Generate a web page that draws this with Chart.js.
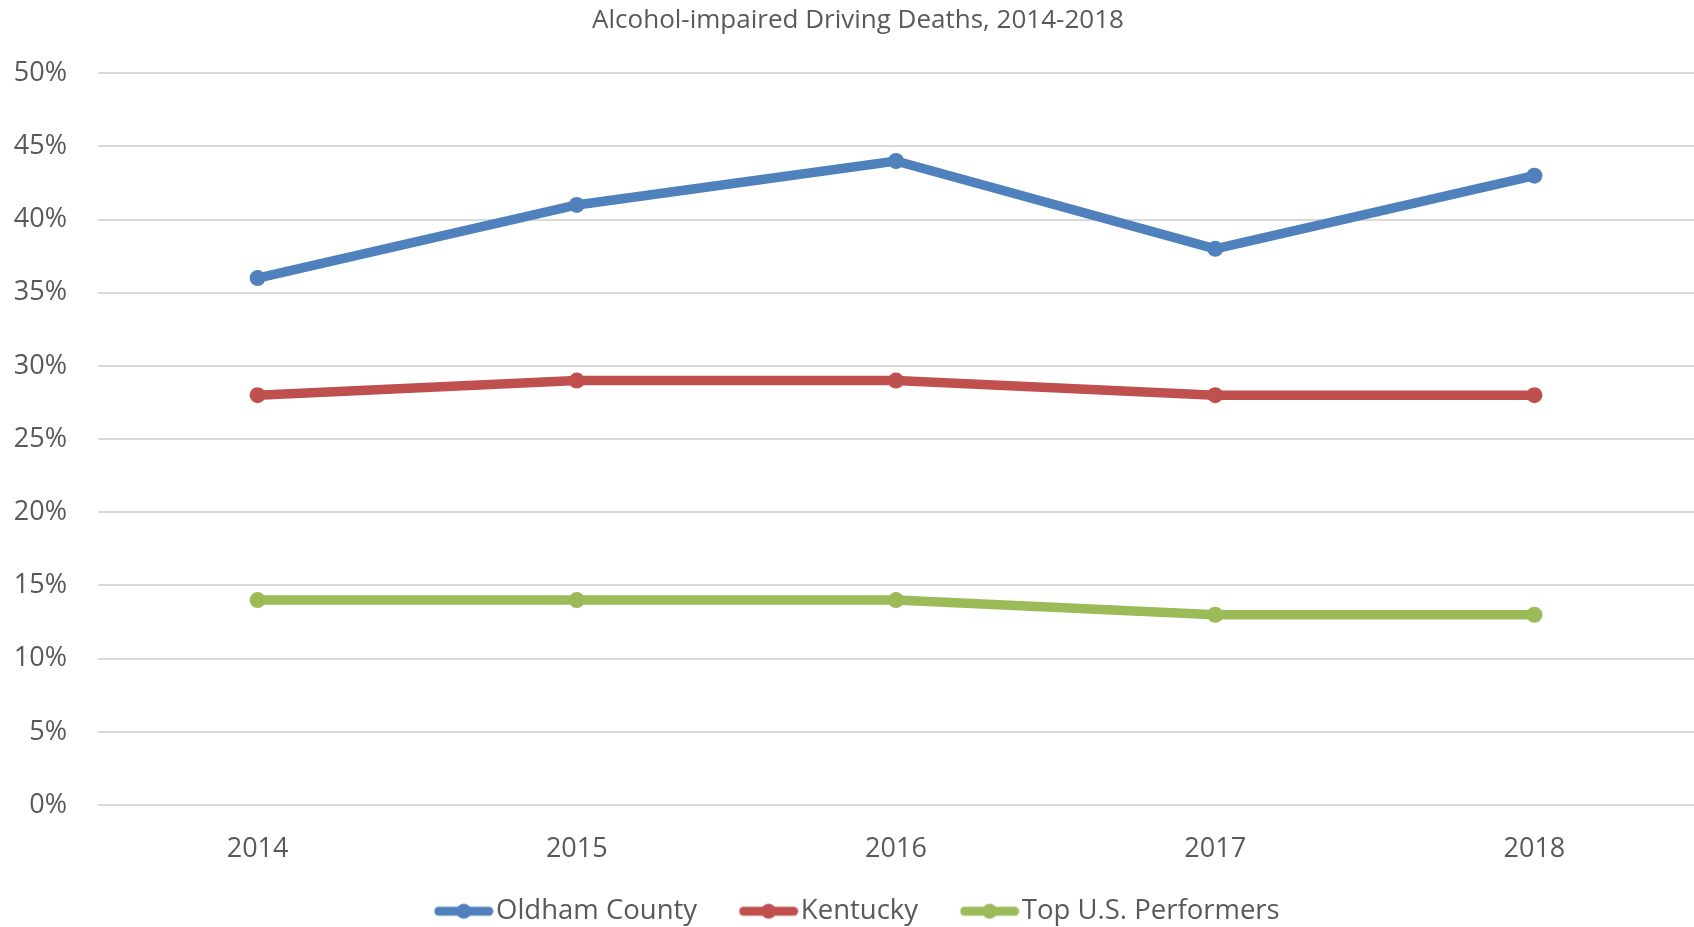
<!DOCTYPE html>
<html>
<head>
<meta charset="utf-8">
<script src="https://cdn.jsdelivr.net/npm/chart.js@4"></script>
<style>
  html, body { margin: 0; padding: 0; background: #fff; }
  #wrap { width: 1694px; height: 927px; }
</style>
</head>
<body>
<div id="wrap"><canvas id="chart"></canvas></div>
<script>
// Chart values
const years = ['2014', '2015', '2016', '2017', '2018'];
const oldham = [36, 41, 44, 38, 43];
const kentucky = [28, 29, 29, 28, 28];
const topPerformers = [14, 14, 14, 13, 13];

const seriesNames = ['Oldham County', 'Kentucky', 'Top U.S. Performers'];
const colors = ['#4f81bd', '#c0504d', '#9bbb59'];
const textColor = '#595959';
const fontFamily = "'Open Sans', sans-serif";

// legend marker: a short line with a dot, drawn at the right end of the image
// so it sits close to its label
const markerBox = 80;
function LegendMarker(color) {
    const c = document.createElement('canvas');
    c.width = markerBox + 23;
    c.height = 18;
    const ctx = c.getContext('2d');
    const x0 = c.width - 60;
    ctx.strokeStyle = color;
    ctx.lineWidth = 9;
    ctx.lineCap = 'round';
    ctx.beginPath();
    ctx.moveTo(x0 + 5, 9);
    ctx.lineTo(c.width - 5, 9);
    ctx.stroke();
    ctx.fillStyle = color;
    ctx.beginPath();
    ctx.arc(x0 + 30, 9, 7.5, 0, Math.PI * 2);
    ctx.fill();
    return c;
}

// move the title a bit right and the legend a bit down, like the original
const nudge = {
    id: 'nudge',
    afterLayout(chart) {
        chart.titleBlock.left += 22;
        chart.legend.top += 8;
        chart.legend.bottom += 8;
        chart.legend.left -= 6;
        chart.legend.right -= 6;
    }
};

const allData = [oldham, kentucky, topPerformers];
const datasets = [];
for (let i = 0; i < allData.length; i++) {
    datasets.push({
        label: seriesNames[i],
        data: allData[i],
        borderColor: colors[i],
        backgroundColor: colors[i],
        borderWidth: 9.5,
        pointStyle: 'circle',
        pointRadius: 8,
        pointHoverRadius: 8,
        pointBorderWidth: 0,
        pointBackgroundColor: colors[i],
        tension: 0
    });
}

new Chart(document.getElementById('chart'), {
    type: 'line',
    data: {
        labels: years,
        datasets: datasets
    },
    plugins: [nudge],
    options: {
        responsive: true,
        maintainAspectRatio: false,
        animation: false,
        layout: { padding: 0, autoPadding: false },
        plugins: {
            title: {
                display: true,
                text: 'Alcohol-impaired Driving Deaths, 2014-2018',
                color: textColor,
                font: { family: fontFamily, size: 26, weight: 'normal' },
                padding: { top: 5, bottom: 37 }
            },
            legend: {
                position: 'bottom',
                labels: {
                    color: textColor,
                    font: { family: fontFamily, size: 27.5 },
                    usePointStyle: true,
                    pointStyleWidth: markerBox,
                    boxHeight: 16,
                    padding: 10,
                    generateLabels: function(chart) {
                        return chart.data.datasets.map(function(ds, i) {
                            return {
                                text: ds.label,
                                fillStyle: ds.borderColor,
                                strokeStyle: ds.borderColor,
                                lineWidth: 0,
                                pointStyle: LegendMarker(ds.borderColor),
                                fontColor: textColor,
                                datasetIndex: i
                            };
                        });
                    }
                }
            },
            tooltip: { enabled: false }
        },
        scales: {
            x: {
                offset: true,
                grid: { display: false, drawTicks: false },
                border: { display: false },
                ticks: {
                    color: textColor,
                    font: { family: fontFamily, size: 27 },
                    padding: 28
                },
                afterFit: function(scale) {
                    scale.height = 74.5;
                    scale.paddingLeft = 0;
                    scale.paddingRight = 0;
                }
            },
            y: {
                min: 0,
                max: 50,
                grid: { color: '#d9d9d9', lineWidth: 2, drawTicks: false },
                border: { display: false },
                ticks: {
                    stepSize: 5,
                    color: textColor,
                    font: { family: fontFamily, size: 27 },
                    padding: 31,
                    callback: function(v) { return v + '%'; }
                },
                afterFit: function(scale) { scale.width = 98; }
            }
        }
    }
});
</script>
</body>
</html>
